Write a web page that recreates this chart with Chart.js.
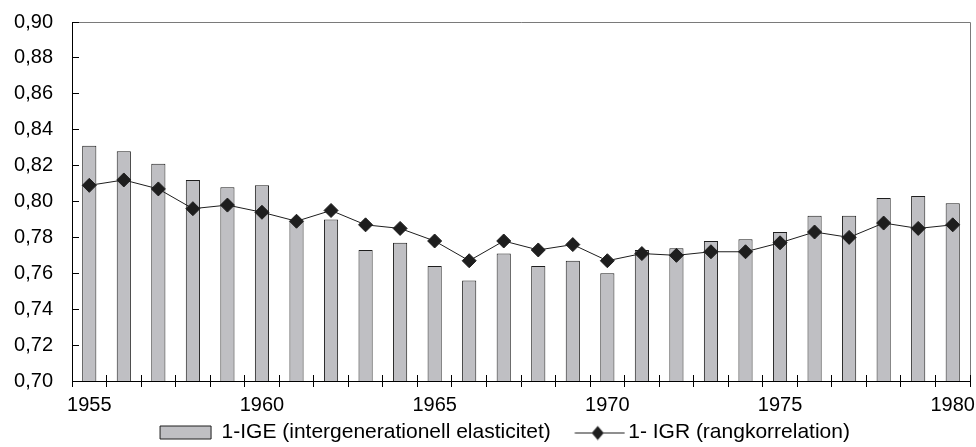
<!DOCTYPE html>
<html>
<head>
<meta charset="utf-8">
<script src="https://cdn.jsdelivr.net/npm/chart.js@4"></script>
<style>
  html, body { margin: 0; padding: 0; background: #fff; width: 976px; height: 447px; overflow: hidden; }
  #wrap { position: absolute; left: 0; top: 0; width: 1000px; height: 470px; }
</style>
</head>
<body>
<div id="wrap"><canvas id="c" width="1000" height="470"></canvas></div>
<script>
const categories = ['1955','1956','1957','1958','1959','1960','1961','1962','1963','1964','1965','1966','1967','1968','1969','1970','1971','1972','1973','1974','1975','1976','1977','1978','1979','1980'];
const igeValues = [0.831, 0.828, 0.821, 0.812, 0.808, 0.809, 0.789, 0.790, 0.773, 0.777, 0.764, 0.756, 0.771, 0.764, 0.767, 0.760, 0.773, 0.774, 0.778, 0.779, 0.783, 0.792, 0.792, 0.802, 0.803, 0.799];
const igrValues = [0.809, 0.812, 0.807, 0.796, 0.798, 0.794, 0.789, 0.795, 0.787, 0.785, 0.778, 0.767, 0.778, 0.773, 0.776, 0.767, 0.771, 0.770, 0.772, 0.772, 0.777, 0.783, 0.780, 0.788, 0.785, 0.787];
const xTickLabels = ['1955','1960','1965','1970','1975','1980'];
const yTickLabels = ['0,70','0,72','0,74','0,76','0,78','0,80','0,82','0,84','0,86','0,88','0,90'];
const seriesNames = ['1-IGE (intergenerationell elasticitet)', '1- IGR (rangkorrelation)'];

const FONT = "'Liberation Sans', Arial, Helvetica, sans-serif";
const BAR_FILL = '#bfbfc3';
const DARK = '#1e1e1e';

// legend icon for the line series (line with a diamond)
const lineIcon = document.createElement('canvas');
lineIcon.width = 66; lineIcon.height = 16;
(function () {
  const g = lineIcon.getContext('2d');
  g.strokeStyle = DARK; g.lineWidth = 1;
  g.beginPath(); g.moveTo(15.5, 8.5); g.lineTo(65.5, 8.5); g.stroke();
  g.fillStyle = DARK;
  g.beginPath(); g.moveTo(38.5, 1.5); g.lineTo(44.5, 8.5); g.lineTo(38.5, 15.5); g.lineTo(32.5, 8.5); g.closePath(); g.fill();
})();

const align = p => Math.round(p - 0.5) + 0.5;

const decor = {
  id: 'decor',
  afterLayout(chart) {
    const l = chart.legend;
    if (l) { l.top -= 11; l.bottom -= 11; l.left += 14; l.right += 14; }
  },
  afterDatasetsDraw(chart) {
    const { ctx, chartArea: a, scales: { x, y } } = chart;
    ctx.save();
    ctx.lineWidth = 1;
    ctx.strokeStyle = '#7a7a7a';
    ctx.beginPath();
    ctx.moveTo(a.left, align(a.top)); ctx.lineTo(align(a.right), align(a.top));
    ctx.lineTo(align(a.right), a.bottom);
    ctx.stroke();
    ctx.strokeStyle = '#000';
    ctx.beginPath();
    y.ticks.forEach((t, i) => {
      const py = align(y.getPixelForTick(i));
      ctx.moveTo(a.left, py); ctx.lineTo(a.left + 7, py);
    });
    const n = x.ticks.length, step = x.width / n;
    for (let i = 0; i <= n; i++) {
      const px = align(x.left + i * step);
      ctx.moveTo(px, a.bottom); ctx.lineTo(px, a.bottom - 6);
    }
    ctx.stroke();
    ctx.restore();
  }
};

new Chart(document.getElementById('c'), {
  data: {
    labels: categories,
    datasets: [
      {
        type: 'bar', label: seriesNames[0], data: igeValues, order: 1,
        backgroundColor: BAR_FILL, borderColor: DARK, borderWidth: 1,
        barPercentage: 0.41, categoryPercentage: 1.0
      },
      {
        type: 'line', label: seriesNames[1], data: igrValues, order: 0,
        borderColor: DARK, borderWidth: 1, fill: false, tension: 0,
        pointStyle: 'rectRot', pointRadius: 7, pointBackgroundColor: DARK,
        pointBorderColor: DARK, pointBorderWidth: 1
      }
    ]
  },
  options: {
    responsive: false,
    devicePixelRatio: 1,
    animation: false,
    layout: { padding: { left: 12, right: 30, top: 22, bottom: 6 } },
    plugins: {
      tooltip: { enabled: false },
      legend: {
        position: 'bottom',
        align: 'center',
        labels: {
          usePointStyle: true,
          pointStyleWidth: 51,
          boxHeight: 13,
          padding: 16,
          color: '#000',
          font: { family: FONT, size: 21 },
          generateLabels: () => [
            { text: seriesNames[0], fillStyle: BAR_FILL, strokeStyle: DARK, lineWidth: 1, pointStyle: 'rect', datasetIndex: 0, hidden: false, fontColor: '#000' },
            { text: seriesNames[1], fillStyle: DARK, strokeStyle: DARK, lineWidth: 0, pointStyle: lineIcon, datasetIndex: 1, hidden: false, fontColor: '#000' }
          ]
        }
      }
    },
    scales: {
      x: {
        type: 'category',
        offset: true,
        grid: { display: true, offset: true, drawOnChartArea: false, drawTicks: true, tickLength: 6, color: '#000', lineWidth: 1 },
        border: { display: true, color: '#000', width: 1 },
        ticks: {
          autoSkip: false, maxRotation: 0, minRotation: 0, padding: 6, color: '#000',
          font: { family: FONT, size: 20 },
          callback: (v, i) => xTickLabels.includes(categories[i]) ? categories[i] : ''
        },
        afterFit: s => { s.height = 36; }
      },
      y: {
        type: 'linear', min: 0.70, max: 0.90,
        grid: { display: true, drawOnChartArea: false, drawTicks: false },
        border: { display: true, color: '#000', width: 1 },
        ticks: {
          stepSize: 0.02, padding: 19, color: '#000',
          font: { family: FONT, size: 20 },
          callback: (v, i) => yTickLabels[i] !== undefined ? yTickLabels[i] : v.toFixed(2).replace('.', ',')
        },
        afterFit: s => { s.width = 60; s.paddingTop = 0; s.paddingBottom = 0; }
      }
    }
  },
  plugins: [decor]
});
</script>
</body>
</html>
